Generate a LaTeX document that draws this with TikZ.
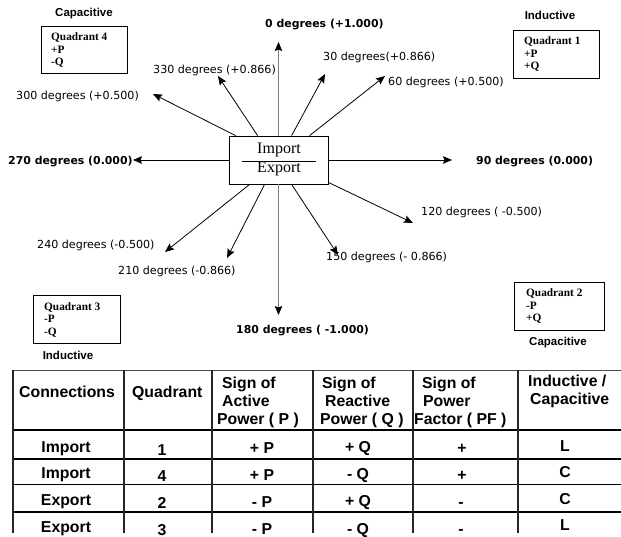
\documentclass[tikz,border=0pt]{standalone}
\usepackage{fontspec}
\usetikzlibrary{arrows.meta}
\newfontfamily\dv{DejaVu Sans}
\newfontfamily\lsans{Liberation Sans}
\newfontfamily\lser{Liberation Serif}
\begin{document}
\begin{tikzpicture}[x=1pt,y=-1pt,
  lbl/.style={anchor=base west, inner sep=0pt, font=\dv\fontsize{11.1}{13}\selectfont},
  blbl/.style={anchor=base west, inner sep=0pt, font=\dv\bfseries\fontsize{10.9}{13}\selectfont},
  arr/.style={line width=0.8pt, -{Stealth[length=9pt,width=7.5pt,inset=1.5pt]}},
  garr/.style={line width=0.9pt, draw=black!50, -{Stealth[length=9pt,width=7.5pt,inset=1.5pt,color=black]}},
  qbox/.style={draw, line width=0.8pt, inner sep=0pt},
  qtxt/.style={anchor=base west, inner sep=0pt, font=\lser\bfseries\fontsize{11.3}{12}\selectfont},
  qlbl/.style={anchor=base, inner sep=0pt, font=\lsans\bfseries\fontsize{11.5}{13}\selectfont},
  th/.style={anchor=base west, inner sep=0pt, font=\lsans\bfseries\fontsize{15.8}{18}\selectfont},
  td/.style={anchor=base, inner sep=0pt, font=\lsans\bfseries\fontsize{15.8}{18}\selectfont},
  tline/.style={line width=1.6pt},
  vline/.style={line width=1.3pt, draw=black!85},
]
\path[use as bounding box, fill=white] (0,0) rectangle (621,537);

% ---------- central box ----------
\node[draw, line width=0.8pt, minimum width=99pt, minimum height=48pt, inner sep=0pt] (ie) at (278.5,160) {};
\node[anchor=base, inner sep=0pt, font=\lser\fontsize{16}{18}\selectfont] (imp) at (279,154) {Import};
\node[anchor=base, inner sep=0pt, font=\lser\fontsize{16}{18}\selectfont] (exp) at (279,173) {Export};
\coordinate (fl) at (242,161);
\coordinate (fr) at (316,161);
\draw[line width=0.8pt] (fl) -- (fr);

% ---------- arrow tips ----------
\coordinate (t0) at (278.5,42);
\coordinate (t30) at (325,74);
\coordinate (t60) at (385,76);
\coordinate (t90) at (452,160);
\coordinate (t120) at (413,223);
\coordinate (t150) at (338,255);
\coordinate (t180) at (278.5,315);
\coordinate (t210) at (227,258);
\coordinate (t240) at (165,252);
\coordinate (t270) at (133,160);
\coordinate (t300) at (153,94);
\coordinate (t330) at (218,76);

\draw[garr] (ie.north) -- (t0);
\draw[arr] ([xshift=63pt]ie.north west) -- (t30);
\draw[arr] ([xshift=81pt]ie.north west) -- (t60);
\draw[arr] (ie.east) -- (t90);
\draw[arr] ([yshift=2pt]ie.south east) -- (t120);
\draw[arr] ([xshift=63pt]ie.south west) -- (t150);
\draw[garr] (ie.south) -- (t180);
\draw[arr] ([xshift=36pt]ie.south west) -- (t210);
\draw[arr] ([xshift=21pt]ie.south west) -- (t240);
\draw[arr] (ie.west) -- (t270);
\draw[arr] ([xshift=7pt]ie.north west) -- (t300);
\draw[arr] ([xshift=29pt]ie.north west) -- (t330);

% ---------- labels ----------
\node[blbl] (l0) at (265,28) {0 degrees (+1.000)};
\node[lbl] (l30) at (323,61) {30 degrees(+0.866)};
\node[lbl] (l60) at (388,86) {60 degrees (+0.500)};
\node[blbl] (l90) at (476,165) {90 degrees (0.000)};
\node[lbl] (l120) at (421,216) {120 degrees ( -0.500)};
\node[lbl] (l150) at (326,261) {150 degrees (- 0.866)};
\node[blbl] (l180) at (236,334) {180 degrees ( -1.000)};
\node[lbl] (l210) at (118,275) {210 degrees (-0.866)};
\node[lbl] (l240) at (37,249) {240 degrees (-0.500)};
\node[blbl] (l270) at (8,165) {270 degrees (0.000)};
\node[lbl] (l300) at (16,100) {300 degrees (+0.500)};
\node[lbl] (l330) at (153,74) {330 degrees (+0.866)};

% ---------- quadrant boxes ----------
\node[qbox, minimum width=86pt, minimum height=47pt] (q4) at (84,49.5) {};
\node[qtxt] (q4a) at (51,41) {Quadrant 4};
\node[qtxt] (q4b) at (51,54) {+P};
\node[qtxt] (q4c) at (51,66) {-Q};
\node[qlbl] (q4l) at (84,17) {Capacitive};

\node[qbox, minimum width=86pt, minimum height=48pt] (q1) at (556,54) {};
\node[qtxt] (q1a) at (524,45) {Quadrant 1};
\node[qtxt] (q1b) at (524,58) {+P};
\node[qtxt] (q1c) at (524,70) {+Q};
\node[qlbl] (q1l) at (550,20) {Inductive};

\node[qbox, minimum width=87pt, minimum height=48pt] (q3) at (76.5,319) {};
\node[qtxt] (q3a) at (44,310) {Quadrant 3};
\node[qtxt] (q3b) at (44,323) {-P};
\node[qtxt] (q3c) at (44,335) {-Q};
\node[qlbl] (q3l) at (68,359) {Inductive};

\node[qbox, minimum width=90pt, minimum height=48pt] (q2) at (559,306) {};
\node[qtxt] (q2a) at (526,297) {Quadrant 2};
\node[qtxt] (q2b) at (526,309) {-P};
\node[qtxt] (q2c) at (526,321) {+Q};
\node[qlbl] (q2l) at (558,345) {Capacitive};

% ---------- table ----------
\draw[line width=1pt, draw=black!70] (13,370) -- (621,370);
\draw[line width=2pt] (13,430) -- (621,430);
\draw[tline] (13,459) -- (621,459);
\draw[tline] (13,484.5) -- (621,484.5);
\draw[tline] (13,512) -- (621,512);
\foreach \x in {13,124,212,313,413,518} {
  \draw[vline] (\x,370) -- (\x,533);
}

\node[th] (h1) at (19,397) {Connections};
\node[th] (h2) at (132,397) {Quadrant};
\node[th] (h3a) at (222,388) {Sign of};
\node[th] (h3b) at (222,406) {Active};
\node[th] (h3c) at (217,424) {Power ( P )};
\node[th] (h4a) at (322,388) {Sign of};
\node[th] (h4b) at (325,406) {Reactive};
\node[th] (h4c) at (320,424) {Power ( Q )};
\node[th] (h5a) at (422,388) {Sign of};
\node[th] (h5b) at (423,406) {Power};
\node[th] (h5c) at (414,424) {Factor ( PF )};
\node[th] (h6a) at (528,386) {Inductive /};
\node[th] (h6b) at (530,404) {Capacitive};

\node[td] (r1c1) at (66,452) {Import};
\node[td] (r2c1) at (66,478) {Import};
\node[td] (r3c1) at (66,505) {Export};
\node[td] (r4c1) at (66,532) {Export};
\node[td] (r1c2) at (162,455) {1};
\node[td] (r2c2) at (162,481) {4};
\node[td] (r3c2) at (162,508) {2};
\node[td] (r4c2) at (162,535) {3};
\node[td] (r1c3) at (262,453) {+ P};
\node[td] (r2c3) at (262,480) {+ P};
\node[td] (r3c3) at (262,507) {- P};
\node[td] (r4c3) at (262,534) {- P};
\node[td] (r1c4) at (358,452) {+ Q};
\node[td] (r2c4) at (358,479) {- Q};
\node[td] (r3c4) at (358,506) {+ Q};
\node[td] (r4c4) at (358,534) {- Q};
\node[td] (r1c5) at (462,453) {+};
\node[td] (r2c5) at (462,480) {+};
\node[td] (r3c5) at (461,507) {-};
\node[td] (r4c5) at (461,534) {-};
\node[td] (r1c6) at (565,451) {L};
\node[td] (r2c6) at (565,477) {C};
\node[td] (r3c6) at (565,504) {C};
\node[td] (r4c6) at (565,530) {L};
\end{tikzpicture}
\end{document}
